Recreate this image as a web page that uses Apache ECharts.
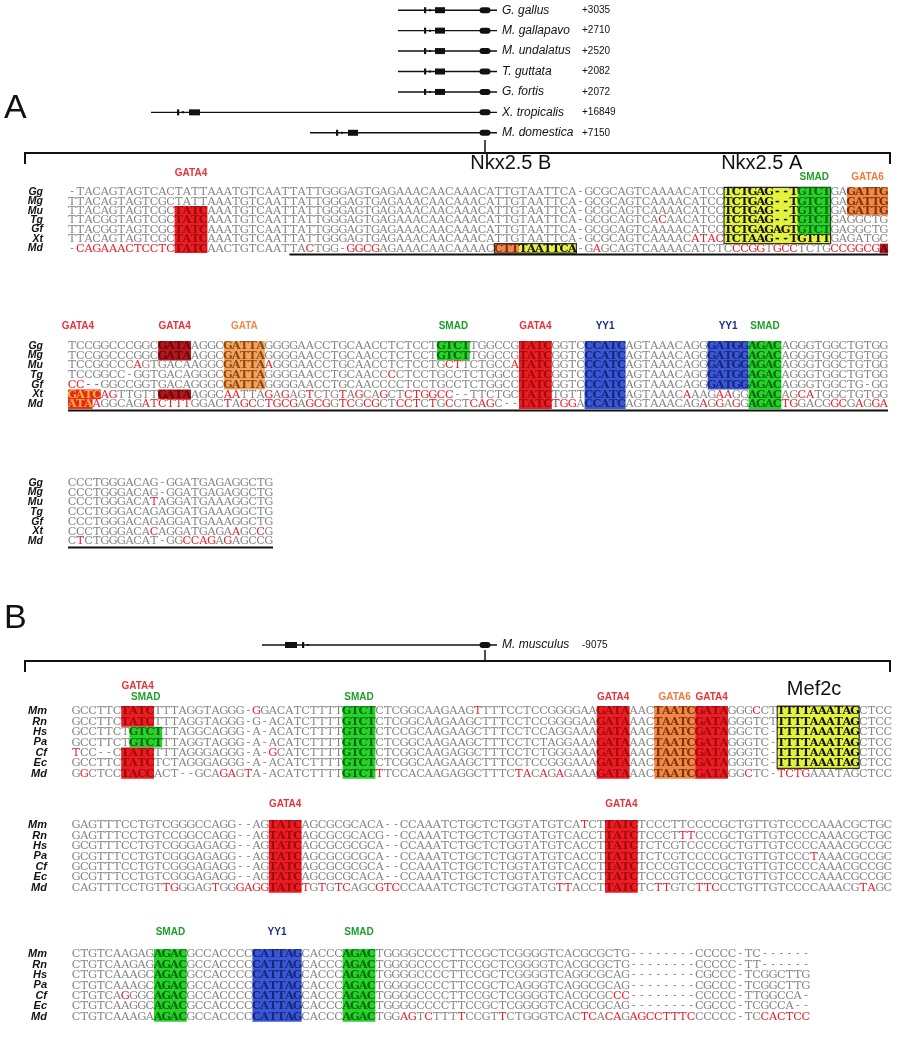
<!DOCTYPE html>
<html>
<head>
<meta charset="utf-8">
<title>Alignment</title>
<script src="https://cdn.jsdelivr.net/npm/echarts@6/dist/echarts.min.js"></script>
<style>
  html, body { margin: 0; padding: 0; background: #fff; }
  #chart { width: 902px; height: 1050px; }
</style>
</head>
<body>
<div id="chart"></div>
<script>
// ---- gene diagrams (positions relative to the conserved exon, schematic units)
const geneSpeciesA = ['G. gallus', 'M. gallapavo', 'M. undalatus', 'T. guttata', 'G. fortis', 'X. tropicalis', 'M. domestica'];
const geneCoordsA = ['+3035', '+2710', '+2520', '+2082', '+2072', '+16849', '+7150'];
const geneStartA = [-87, -87, -87, -87, -87, -334, -175];
const geneTickA = [-60, -60, -60, -60, -60, -307, -148];
const geneExonA = [[-50, -40], [-50, -40], [-50, -40], [-50, -40], [-50, -40], [-296, -285], [-137, -127]];
const geneEnd = 12;

const geneSpeciesB = ['M. musculus'];
const geneCoordsB = ['-9075'];
const geneStartB = [-223];
const geneTickB = [-182];
const geneExonB = [[-200, -188]];

// ---- panel A
const speciesA = ['Gg', 'Mg', 'Mu', 'Tg', 'Gf', 'Xt', 'Md'];

const seqA1 = [
  '-TACAGTAGTCACTATTAAATGTCAATTATTGGGAGTGAGAAACAACAAACATTGTAATTCA-GCGCAGTCAAAACATCCTCTGAG--TGTCTGAGATTG',
  'TTACAGTAGTCGCTATTAAATGTCAATTATTGGGAGTGAGAAACAACAAACATTGTAATTCA-GCGCAGTCAAAACATCCTCTGAG--TGTCTGAGATTG',
  'TTACAGTAGTCGCTATCAAATGTCAATTATTGGGAGTGAGAAACAACAAACATTGTAATTCA-GCGCAGTCAAAACATCCTCTGAG--TGTCTGAGATTG',
  'TTACGGTAGTCGCTATCAAATGTCAATTATTGGGAGTGAGAAACAACAAACATTGTAATTCA-GCGCAGTCACAACATCCTCTGAG--TGTCTGAGGCTG',
  'TTACGGTAGTCGCTATCAAATGTCAATTATTGGGAGTGAGAAACAACAAACATTGTAATTCA-GCGCAGTCAAAACATCCTCTGAGAGTGTCTGAGGCTG',
  'TTACAGTAGTCGCTATCAAATGTCAATTATTGGGAGTGAGAAACAACAAACATTGTAATTCA-GCGCAGTCAAAACATACTCTAAG--TGTTTGAGATGC',
  '-CAGAAACTCCTCTATCAACTGTCAATTACTGG-GGCGAGAAACAACAAAACCTTTAATTCA-GAGCAGTCAAAACATCTCCCGGTGCCTCTGCCGGCGA'
];
const redA1 = [[], [], [], [72], [], [76, 77, 78, 79, 90, 91],
  [1, 2, 3, 4, 5, 6, 7, 8, 9, 10, 11, 12, 29, 34, 35, 36, 37, 64, 81, 82, 83, 84, 86, 87, 88, 93, 94, 95, 96, 97, 98]];
// [firstCol, lastCol, firstRow, lastRow, kind]
const boxesA1 = [
  [13, 16, 2, 6, 'gata4'],
  [52, 54, 6, 6, 'gata6'], [55, 61, 6, 6, 'yellow'], [52, 61, 6, 6, 'outline'],
  [80, 92, 0, 5, 'yellow'], [89, 92, 0, 4, 'smad'], [80, 92, 0, 5, 'outline'],
  [95, 99, 0, 2, 'gata6'],
  [99, 99, 6, 6, 'gata4dark']
];
// [centre column, row, text, kind]
const motifsA1 = [
  [15, -1.5, 'GATA4', 'gata4'], [54, -2.5, 'Nkx2.5 B', 'big'], [84.6, -2.5, 'Nkx2.5 A', 'big'],
  [91, -1.1, 'SMAD', 'smad'], [97.5, -1.1, 'GATA6', 'gata6']
];
const underlineA1 = [[27, 99, 6]];

const seqA2 = [
  'TCCGGCCCGGCGATAAGGCGATTAGGGGAACCTGCAACCTCTCCTGTCTTGGCCGTATCGGTCCCATCAGTAAACAGGGATGGAGACAGGGTGGCTGTGG',
  'TCCGGCCCGGCGATAAGGCGATTAGGGGAACCTGCAACCTCTCCTGTCTTGGCCGTATCGGTCCCATCAGTAAACAGGGATGGAGACAGGGTGGCTGTGG',
  'TCCGGCCCAGTGACAAGGCGATTAAGGGAACCTGCAACCTCTCCTGCTTCTGCCATATCGGTCCCATCAGTAAACAGGGATGGAGACAGGGTGGCTGTGG',
  'TCCGGCC-GGTGACAGGGCGATTAGGGGAACCTGCAACCCCTCCTGCCTCTGGCCTATCGGTCCCATCAGTAAACAGGGATGGAGACAGGGTGGCTGTGG',
  'CC--GGCCGGTGACAGGGCGATTAGGGGAACCTGCAACCCCTCCTGCCTCTGGCCTATCGGTCCCATCAGTAAACAGGGATGGAGACAGGGTGGCTG-GG',
  'GATCAGTTGTTGATAAGGCAATTAGAGAGTCTGTAGCAGCTCTGGCC--TTCTGCTATCTGTTCCATCAGTAAACAAAGAAGGAGACAGCATGGCTGTGG',
  'ATAAGGCAGATCTTTGGACTAGCCTGCGAGCGGTCGCGCTCCTCTGCCTCAGC--TATCTGGACCATCAGTAAACAGAGGAGGAGACTGGACGGCGAGGA'
];
const redA2 = [[], [], [8, 24, 46, 47, 54], [39], [0, 1, 2, 3],
  [4, 5, 19, 20, 24, 26, 29, 33, 35, 38, 41, 42, 43, 44, 45, 46, 75, 79, 80, 89, 90],
  [3, 9, 10, 11, 12, 13, 14, 19, 21, 22, 24, 25, 26, 27, 29, 30, 31, 33, 34, 36, 37, 40, 41, 42, 44, 46,
    49, 50, 51, 59, 60, 61, 77, 79, 81, 87, 88, 93, 94, 96, 98, 99]];
const boxesA2 = [
  [0, 3, 5, 5, 'gatc'], [0, 2, 6, 6, 'gatc'],
  [11, 14, 0, 1, 'gata4dark'], [11, 14, 5, 5, 'gata4dark'],
  [19, 23, 0, 4, 'gata'],
  [45, 48, 0, 1, 'smad'],
  [55, 58, 0, 6, 'gata4'],
  [63, 67, 0, 6, 'yy1'],
  [78, 82, 0, 4, 'yy1'],
  [83, 86, 0, 6, 'smad']
];
const motifsA2 = [
  [1.2, -1.5, 'GATA4', 'gata4'], [13, -1.5, 'GATA4', 'gata4'], [21.5, -1.5, 'GATA', 'gata'],
  [47, -1.5, 'SMAD', 'smad'], [57, -1.5, 'GATA4', 'gata4'], [65.5, -1.5, 'YY1', 'yy1'],
  [80.5, -1.5, 'YY1', 'yy1'], [85, -1.5, 'SMAD', 'smad']
];
const underlineA2 = [[0, 99, 6]];

const seqA3 = [
  'CCCTGGGACAG-GGATGAGAGGCTG',
  'CCCTGGGACAG-GGATGAGAGGCTG',
  'CCCTGGGACATAGGATGAAAGGCTG',
  'CCCTGGGACAGAGGATGAAAGGCTG',
  'CCCTGGGACAGAGGATGAAAGGCTG',
  'CCCTGGGACACAGGATGAGAAGCCG',
  'CTCTGGGACAT-GGCCAGAGAGCCG'
];
const redA3 = [[], [], [10], [], [], [10, 20, 23], [1, 14, 15, 16, 17, 19]];
const underlineA3 = [[0, 24, 6]];

// ---- panel B
const speciesB = ['Mm', 'Rn', 'Hs', 'Pa', 'Cf', 'Ec', 'Md'];

const seqB1 = [
  'GCCTTCTATCTTTAGGTAGGG-GGACATCTTTTGTCTCTCGGCAAGAAGTTTTCCTCCGGGGAAGATAAACTAATCGATAGGGCCTTTTTAAATAGCTCC',
  'GCCTTCTATCTTTAGGTAGGG-G-ACATCTTTTGTCTCTCGGCAAGAAGCTTTCCTCCGGGGAAGATAAACTAATCGATAGGGTCTTTTTAAATAGCTCC',
  'GCCTTCTGTCTTTAGGCAGGG-A-ACATCTTTTGTCTCTCCGCAAGAAGCTTTCCTCCAGGAAAGATAAACTAATCGATAGGCTC-TTTTAAATAGCTCC',
  'GCCTTCTGTCTTTAGGTAGGG-A-ACATCTTTTGTCTCTCGGCAAGAAGCTTTCCTCTAGGAAAGATAAACTAATCGATAGGGTC-TTTTAAATAGCTCC',
  'TCC--CTATCTTTAGGGAGGG-A-GCATCTTTTGTCTCTCGGCAAGAGGCTTTCCTCTGGGAAAGATAAACTAATCGATAGGGTC-TTTTAAATAGCTCC',
  'GCCTTCTATCTCTAGGGAGGG-A-ACATCTTTTGTCTCTCGGCAAGAAGCTTTCCTCCGGGAAAGATAAACTAATCGATAGGGTC-TTTTAAATAGCTCC',
  'GGCTCCTACCACT--GCAGAGTA-ACATCTTTTGTCTTTCCACAAGAGGCTTTCTACAGAGAAAGATAAACTAATCGATAGGCTC-TCTGAAATAGCTCC'
];
const redB1 = [[22, 49, 83], [], [], [], [0, 24], [],
  [1, 18, 19, 21, 37, 54, 55, 57, 59, 82, 86, 87, 88, 89]];
const boxesB1 = [
  [6, 9, 0, 1, 'gata4'], [7, 10, 2, 3, 'smad'], [6, 9, 4, 6, 'gata4'],
  [33, 36, 0, 6, 'smad'],
  [64, 67, 0, 6, 'gata4'],
  [71, 75, 0, 6, 'gata6'],
  [76, 79, 0, 6, 'gata4'],
  [86, 95, 0, 5, 'yellow'], [86, 95, 0, 5, 'outline']
];
const motifsB1 = [
  [8, -1.9, 'GATA4', 'gata4'], [9, -0.85, 'SMAD', 'smad'], [35, -0.85, 'SMAD', 'smad'],
  [66, -0.85, 'GATA4', 'gata4'], [73.5, -0.85, 'GATA6', 'gata6'], [78, -0.85, 'GATA4', 'gata4'],
  [90.5, -1.6, 'Mef2c', 'big']
];

const seqB2 = [
  'GAGTTTCCTGTCGGGCCAGG--AGTATCAGCGCGCACA--CCAAATCTGCTCTGGTATGTCATCTTATCTCCCTTCCCCGCTGTTGTCCCCAAACGCTGC',
  'GAGTTTCCTGTCCGGCCAGG--AGTATCAGCGCGCACG--CCAAATCTGCTCTGGTATGTCACCTTATCTCCCTTTCCCGCTGTTGTCCCCAAACGCTGC',
  'GCGTTTCCTGTCGGGAGAGG--AGTATCAGCGCGCGCA--CCAAATCTGCTCTGGTATGTCACCTTATCTCTCGTCCCCGCTGTTGTCCCCAAACGCCGC',
  'GCGTTTCCTGTCGGGAGAGG--AGTATCAGCGCGCGCA--CCAAATCTGCTCTGGTATGTCACCTTATCTCTCGTCCCCGCTGTTGTCCCTAAACGCCGC',
  'GCGTTTCCTGTCGGGAGAGG--AGTATCAGCGCGCGCA--CCAAATCTGCTCTGGTATGTCACCTTATCTCCCGTCCCCGCTGTTGTCCCCAAACGCCGC',
  'GCGTTTCCTGTCGGGAGAGG--AGTATCAGCGCGCACA--CCAAATCTGCTCTGGTATGTCACCTTATCTCCCGTCCCCGCTGTTGTCCCCAAACGCCGC',
  'CAGTTTCCTGTTGGGAGTGGGAGGTATCTGTGTCAGCGTCCCAAATCTGCTCTGGTATGTTACCTTATCTCTTGTCTTCCCTGTTGTCCCCAAACGTAGC'
];
const redB2 = [[62], [74, 75], [], [90], [], [],
  [11, 12, 17, 20, 21, 22, 23, 28, 30, 32, 33, 37, 38, 39, 59, 60, 71, 72, 76, 77, 78, 96, 97]];
const boxesB2 = [[24, 27, 0, 6, 'gata4'], [65, 68, 0, 6, 'gata4']];
const motifsB2 = [[26, -1.5, 'GATA4', 'gata4'], [67, -1.5, 'GATA4', 'gata4']];

const seqB3 = [
  'CTGTCAAGAGAGACGCCACCCCCATTAGCACCCAGACTGGGGCCCCTTCCGCTCGGGGTCACGCGCTG--------CCCCC-TC------',
  'CTGTCAAGAGAGACGCCACCCCCATTAGCACCCAGACTGGGGCCCCTTCCGCTCGGGGTCACGCGCTG--------CCCCC-TT------',
  'CTGTCAAAGCAGACGCCACCCCCATTAGCACCCAGACTGGGGCCCCTTCCGCTCGGGGTCAGGCGCAG--------CGCCC-TCGGCTTG',
  'CTGTCAAAGCAGACGCCACCCCCATTAGCACCCAGACTGGGGCCCCTTCCGCTCAGGGTCAGGCGCAG--------CGCCC-TCGGCTTG',
  'CTGTCAGGGCAGACGCCACCCCCATTAGCACCCAGACTGGGGCCCCTTCCGCTCGGGGTCACGCGCCC--------CCCCC-TTGGCCA-',
  'CTGTCAAGGCAGACGCCACCCCCATTAGCACCCAGACTGGGGCCCCTTCCGCTCGGGGTCACGCGCAG--------CGCCC-TCGCCA--',
  'CTGTCAAAGAAGACGCCACCCCCATTAGCACCCAGACTGGAGTCTTTTCCGTTCTGGGTCACTCACAGAGCCTTTCCCCCC-TCCACTCC'
];
const redB3 = [[], [], [], [], [6, 66, 67], [],
  [40, 41, 43, 47, 52, 62, 63, 65, 66, 68, 69, 70, 71, 72, 73, 74, 75, 84, 85, 86, 87, 88, 89]];
const boxesB3 = [[10, 13, 0, 6, 'smad'], [22, 27, 0, 6, 'yy1'], [33, 36, 0, 6, 'smad']];
const motifsB3 = [[12, -1.6, 'SMAD', 'smad'], [25, -1.6, 'YY1', 'yy1'], [35, -1.6, 'SMAD', 'smad']];

// ---- styles
const CELL_W = 8.2;
const GRAY = '#858585';
const RED = '#e8202a';
const SEQ_FONT = '10.5px "DejaVu Serif"';
const BOX_FONT = 'bold 10.5px "DejaVu Serif"';
const BOX_STYLE = {
  gata4: { fill: '#ea1d23', text: '#9e0b0f' },
  gata4dark: { fill: '#b3161d', text: '#6e0509' },
  smad: { fill: '#27d32a', text: '#0b6a10' },
  yy1: { fill: '#3a58d6', text: '#17277a' },
  gata: { fill: '#f4a35e', text: '#8a4a10' },
  gata6: { fill: '#f3874a', text: '#7a3608' },
  yellow: { fill: '#e3f23c', text: '#111111' },
  gatc: { fill: '#e8281e', text: '#f9b233' },
  outline: { fill: null, stroke: '#333', lineWidth: 1.2 }
};
const LABEL_COLOR = { gata4: '#e8323a', smad: '#1f9e2a', gata: '#f08a4b', gata6: '#f07a3e', yy1: '#1c2c8e', big: '#111' };

const grids = [], xAxes = [], yAxes = [], series = [];

function addGeneGrid(names, coords, starts, ticks, exons, box) {
  const gi = grids.length;
  grids.push({ left: box.left, top: box.top, width: box.width, height: box.height });
  xAxes.push({ gridIndex: gi, type: 'value', min: -335, max: geneEnd, show: false });
  const yi = yAxes.length;
  yAxes.push({
    gridIndex: gi, type: 'category', data: names, inverse: true, position: 'right',
    axisLine: { show: false }, axisTick: { show: false }, splitLine: { show: false },
    axisLabel: {
      interval: 0, margin: 5,
      formatter: (v, i) => `{sp|${v}}{num|${coords[i]}}`,
      rich: {
        sp: { width: 80, fontSize: 12, fontStyle: 'italic', fontFamily: 'Liberation Sans', color: '#111' },
        num: { fontSize: 10, fontFamily: 'Liberation Sans', color: '#111' }
      }
    }
  });
  series.push({
    type: 'custom', xAxisIndex: gi, yAxisIndex: yi, silent: true,
    data: names.map((n, i) => [0, i]),
    renderItem(params, api) {
      const i = params.dataIndex;
      const X = v => api.coord([v, i])[0];
      const y = api.coord([0, i])[1];
      return {
        type: 'group',
        children: [
          { type: 'line', shape: { x1: X(starts[i]), y1: y, x2: X(geneEnd), y2: y }, style: { stroke: '#111', lineWidth: 1.4 } },
          { type: 'rect', shape: { x: X(ticks[i]) - 1, y: y - 3, width: 2.2, height: 6 }, style: { fill: '#111' } },
          { type: 'rect', shape: { x: X(ticks[i]) + 4, y: y - 1, width: 2, height: 2 }, style: { fill: '#111' } },
          { type: 'rect', shape: { x: X(exons[i][0]), y: y - 3, width: X(exons[i][1]) - X(exons[i][0]), height: 6 }, style: { fill: '#111' } },
          { type: 'rect', shape: { x: X(0) - 5.5, y: y - 3, width: 11, height: 6, r: 3 }, style: { fill: '#111' } }
        ]
      };
    }
  });
}

function addSeqBlock(b) {
  const gi = grids.length;
  const nCol = Math.max(...b.seqs.map(s => s.length));
  const nRow = b.species.length;
  grids.push({ left: b.pos.left, top: b.pos.top, width: nCol * CELL_W, height: nRow * b.pos.rowH });
  xAxes.push({ gridIndex: gi, type: 'value', min: 0, max: nCol, show: false });
  yAxes.push({
    gridIndex: gi, type: 'category', data: b.species, inverse: true,
    axisLine: { show: false }, axisTick: { show: false }, splitLine: { show: false },
    axisLabel: { interval: 0, margin: 25, fontSize: b.pos.labelSize, fontStyle: 'italic', fontWeight: 'bold', fontFamily: 'Liberation Sans', color: '#111' }
  });
  const yv = yAxes.length;
  yAxes.push({ gridIndex: gi, type: 'value', min: 0, max: nRow, inverse: true, show: false });

  const boxes = b.boxes || [];
  // boxes behind the letters
  series.push({
    type: 'custom', xAxisIndex: gi, yAxisIndex: yv, silent: true, z: 1,
    data: boxes.map(bx => [bx[0], bx[2]]),
    renderItem(params, api) {
      const bx = boxes[params.dataIndex];
      const p0 = api.coord([bx[0], bx[2]]);
      const p1 = api.coord([bx[1] + 1, bx[3] + 1]);
      const st = BOX_STYLE[bx[4]];
      return {
        type: 'rect',
        shape: { x: p0[0], y: p0[1], width: p1[0] - p0[0], height: p1[1] - p0[1] },
        style: { fill: st.fill, stroke: st.stroke || null, lineWidth: st.lineWidth || 0 }
      };
    }
  });

  const cells = [];
  b.seqs.forEach((s, r) => {
    for (let c = 0; c < s.length; c++) {
      let kind = null;
      boxes.forEach(bx => {
        if (bx[4] !== 'outline' && c >= bx[0] && c <= bx[1] && r >= bx[2] && r <= bx[3]) kind = bx[4];
      });
      let fill = GRAY;
      if (kind) fill = BOX_STYLE[kind].text;
      else if (b.red[r].indexOf(c) >= 0) fill = RED;
      cells.push({ c, r, ch: s[c], fill, font: kind ? BOX_FONT : SEQ_FONT });
    }
  });
  series.push({
    type: 'custom', xAxisIndex: gi, yAxisIndex: yv, silent: true, z: 2, progressive: 0,
    data: cells.map(d => [d.c + 0.5, d.r + 0.5]),
    renderItem(params, api) {
      const d = cells[params.dataIndex];
      const p = api.coord([d.c + 0.5, d.r + 0.5]);
      return {
        type: 'text', x: p[0], y: p[1] + 0.5, scaleX: 1.08,
        style: { text: d.ch, fill: d.fill, font: d.font, align: 'center', verticalAlign: 'middle', textAlign: 'center', textVerticalAlign: 'middle' }
      };
    }
  });

  const motifs = b.motifs || [];
  series.push({
    type: 'custom', xAxisIndex: gi, yAxisIndex: yv, silent: true, z: 3,
    data: motifs.map(m => [m[0], m[1]]),
    renderItem(params, api) {
      const m = motifs[params.dataIndex];
      const p = api.coord([m[0], m[1]]);
      const font = m[3] === 'big' ? '20px "Liberation Sans"' : 'bold 10px "Liberation Sans"';
      return {
        type: 'text', x: p[0], y: p[1],
        style: { text: m[2], fill: LABEL_COLOR[m[3]], font, align: 'center', verticalAlign: 'middle', textAlign: 'center', textVerticalAlign: 'middle' }
      };
    }
  });

  const lines = b.underline || [];
  series.push({
    type: 'custom', xAxisIndex: gi, yAxisIndex: yv, silent: true, z: 3,
    data: lines.map(l => [l[0], l[2]]),
    renderItem(params, api) {
      const l = lines[params.dataIndex];
      const p0 = api.coord([l[0], l[2] + 1]);
      const p1 = api.coord([l[1] + 1, l[2] + 1]);
      return { type: 'line', shape: { x1: p0[0], y1: p0[1] + 1.5, x2: p1[0], y2: p1[1] + 1.5 }, style: { stroke: '#111', lineWidth: 2 } };
    }
  });
}

addGeneGrid(geneSpeciesA, geneCoordsA, geneStartA, geneTickA, geneExonA, { left: 150, top: -1, width: 347, height: 144 });
addSeqBlock({ species: speciesA, seqs: seqA1, red: redA1, boxes: boxesA1, motifs: motifsA1, underline: underlineA1, pos: { left: 68, top: 187.3, rowH: 9.4, labelSize: 10.5 } });
addSeqBlock({ species: speciesA, seqs: seqA2, red: redA2, boxes: boxesA2, motifs: motifsA2, underline: underlineA2, pos: { left: 68, top: 341, rowH: 9.7, labelSize: 10.5 } });
addSeqBlock({ species: speciesA, seqs: seqA3, red: redA3, underline: underlineA3, pos: { left: 68, top: 478, rowH: 9.7, labelSize: 10.5 } });
addGeneGrid(geneSpeciesB, geneCoordsB, geneStartB, geneTickB, geneExonB, { left: 150, top: 635, width: 347, height: 20 });
addSeqBlock({ species: speciesB, seqs: seqB1, red: redB1, boxes: boxesB1, motifs: motifsB1, pos: { left: 72, top: 706, rowH: 10.4, labelSize: 11 } });
addSeqBlock({ species: speciesB, seqs: seqB2, red: redB2, boxes: boxesB2, motifs: motifsB2, pos: { left: 72, top: 820, rowH: 10.4, labelSize: 11 } });
addSeqBlock({ species: speciesB, seqs: seqB3, red: redB3, boxes: boxesB3, motifs: motifsB3, pos: { left: 72, top: 949, rowH: 10.4, labelSize: 11 } });

const chart = echarts.init(document.getElementById('chart'));
chart.setOption({
  animation: false,
  grid: grids,
  xAxis: xAxes,
  yAxis: yAxes,
  series: series,
  graphic: [
    { type: 'text', left: 4, top: 92, style: { text: 'A', font: '34px "Liberation Sans"', fill: '#111' } },
    { type: 'text', left: 4, top: 602, style: { text: 'B', font: '34px "Liberation Sans"', fill: '#111' } },
    { type: 'polyline', shape: { points: [[25, 164], [25, 153], [890, 153], [890, 164]] }, style: { stroke: '#111', lineWidth: 2, fill: null } },
    { type: 'line', shape: { x1: 485, y1: 140, x2: 485, y2: 153 }, style: { stroke: '#111', lineWidth: 1.5 } },
    { type: 'polyline', shape: { points: [[25, 672], [25, 661], [890, 661], [890, 672]] }, style: { stroke: '#111', lineWidth: 2, fill: null } },
    { type: 'line', shape: { x1: 485, y1: 650, x2: 485, y2: 661 }, style: { stroke: '#111', lineWidth: 1.5 } }
  ]
});
</script>
</body>
</html>
